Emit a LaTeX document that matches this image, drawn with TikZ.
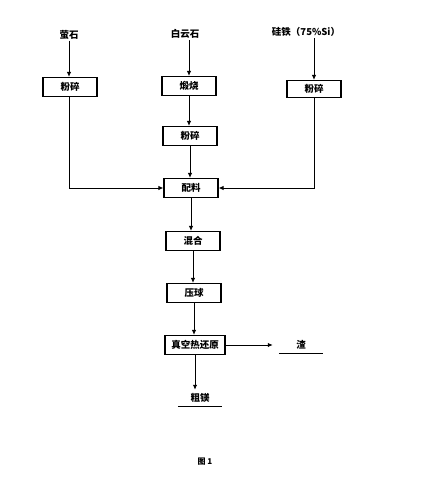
\documentclass[tikz,border=0pt]{standalone}
\usepackage{fontspec}
\newfontfamily\cjk{Noto Sans CJK SC}
\usetikzlibrary{arrows.meta}

\begin{document}
\begin{tikzpicture}[x=1pt, y=-1pt,
    box/.style={draw, line width=1.1pt, minimum width=54pt, minimum height=19pt, inner sep=1pt, font=\cjk\bfseries\fontsize{9.5}{10}\selectfont},
    lbl/.style={inner sep=1pt, font=\cjk\bfseries\fontsize{9.5}{10}\selectfont},
    flow/.style={line width=1pt, -{Latex[length=5pt,width=4.5pt]}}]
    \useasboundingbox (0,0) rectangle (430,497);
    % raw materials
    \node[lbl] (yingshi) at (69,35) {萤石};
    \node[lbl] (baiyun) at (185,34) {白云石};
    \node[lbl] (guitie) at (306,32) {硅铁（75\%Si）};
    % process boxes
    \node[box] (fensuiA) at (70,87) {粉碎};
    \node[box] (duanshao) at (189,86) {煅烧};
    \node[box] (fensuiB) at (190,136) {粉碎};
    \node[box, minimum height=17pt] (fensuiC) at (314,89) {粉碎};
    \node[box] (peiliao) at (191,188) {配料};
    \node[box] (hunhe) at (193,241) {混合};
    \node[box] (yaqiu) at (194,293) {压球};
    \node[box, minimum width=60pt] (huanyuan) at (195,345) {真空热还原};
    % products
    \node[lbl, minimum width=44pt, minimum height=16pt] (zha) at (301,345) {渣};
    \node[lbl, minimum width=44pt, minimum height=16pt] (cumei) at (200,398) {粗镁};
    \draw[line width=0.9pt] (zha.south west) -- (zha.south east);
    \draw[line width=0.9pt] (cumei.south west) -- (cumei.south east);
    % flow
    \draw[flow] (yingshi) -- (yingshi |- fensuiA.north);
    \draw[flow] (baiyun.south -| duanshao) -- (duanshao.north);
    \draw[flow] (guitie.south -| fensuiC) -- (fensuiC.north);
    \draw[flow] (duanshao) -- (duanshao |- fensuiB.north);
    \draw[flow] (fensuiB) -- (fensuiB |- peiliao.north);
    \draw[flow] (fensuiA.south -| yingshi) |- (peiliao.west);
    \draw[flow] (fensuiC.south) |- (peiliao.east);
    \draw[flow] (peiliao.south) -- (peiliao.south |- hunhe.north);
    \draw[flow] (hunhe.south) -- (hunhe.south |- yaqiu.north);
    \draw[flow] (yaqiu.south) -- (yaqiu.south |- huanyuan.north);
    \draw[flow, shorten >=6pt] (huanyuan.east) -- (zha.west |- huanyuan.east);
    \draw[flow] (huanyuan.south) -- (huanyuan.south |- cumei.north);
    \node[lbl, font=\cjk\bfseries\fontsize{8}{9}\selectfont] (tu) at (205,462) {图 1};
\end{tikzpicture}
\end{document}
